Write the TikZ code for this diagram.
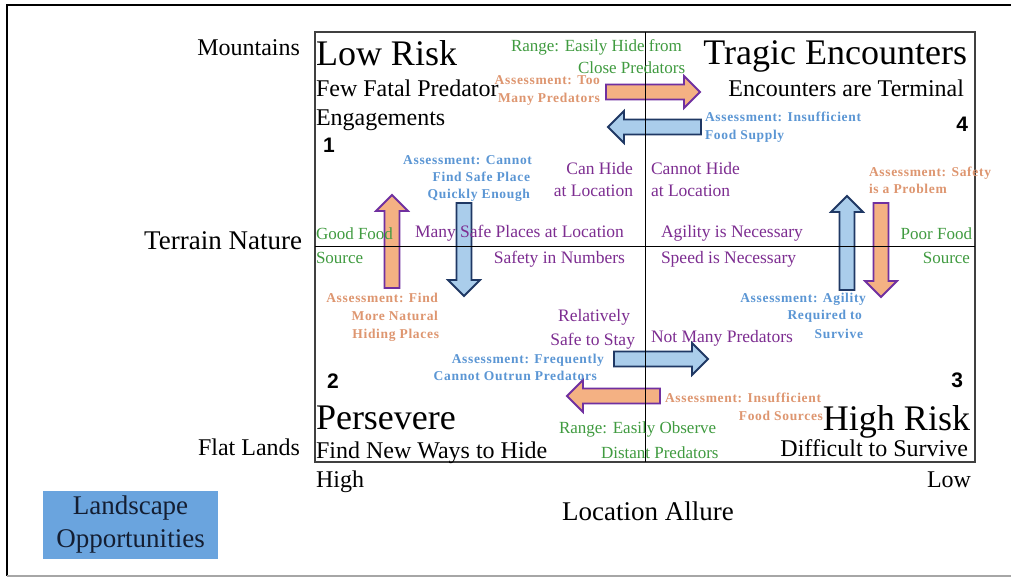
\documentclass[tikz,border=0pt]{standalone}
\usepackage{fontspec}
\setmainfont{Liberation Serif}
\newfontfamily\numfont{Liberation Sans}
\newfontfamily\assessfont{Liberation Serif}[LetterSpace=5]
\definecolor{ptext}{RGB}{125,45,145}
\definecolor{gtext}{RGB}{64,155,64}
\definecolor{btext}{RGB}{91,150,212}
\definecolor{otext}{RGB}{222,150,112}
\definecolor{ofill}{RGB}{244,177,131}
\definecolor{oline}{RGB}{112,48,160}
\definecolor{bfill}{RGB}{170,205,235}
\definecolor{bline}{RGB}{31,56,100}
\definecolor{boxfill}{RGB}{106,164,222}
\definecolor{boxtext}{RGB}{20,30,50}

% block arrows: style, tail, tip, centre line
\newcommand\harrow[4]{%
  \pgfmathsetmacro\hlen{ifthenelse(#3>#2,16,-16)}%
  \draw[#1] (#2,#4-7.5) -- ({#3-\hlen},#4-7.5) -- ({#3-\hlen},#4-16) -- (#3,#4)
     -- ({#3-\hlen},#4+16) -- ({#3-\hlen},#4+7.5) -- (#2,#4+7.5) -- cycle;}
\newcommand\varrow[4]{%
  \pgfmathsetmacro\hlen{ifthenelse(#3>#2,16,-16)}%
  \draw[#1] (#4-7.5,#2) -- (#4-7.5,{#3-\hlen}) -- (#4-16,{#3-\hlen}) -- (#4,#3)
     -- (#4+16,{#3-\hlen}) -- (#4+7.5,{#3-\hlen}) -- (#4+7.5,#2) -- cycle;}

\tikzset{
  every node/.style={inner sep=0pt, outer sep=0pt},
  big/.style={font=\fontsize{36}{38}\selectfont},
  med/.style={font=\fontsize{24}{26}\selectfont},
  axis/.style={font=\fontsize{27}{29}\selectfont},
  purp/.style={text=ptext, font=\fontsize{17.5}{20}\selectfont},
  grn/.style={text=gtext, font=\fontsize{17}{20}\selectfont},
  bass/.style={text=btext, font=\assessfont\bfseries\fontsize{13.5}{15}\selectfont},
  oass/.style={text=otext, font=\assessfont\bfseries\fontsize{13.5}{15}\selectfont},
  num/.style={font=\numfont\bfseries\fontsize{21}{22}\selectfont},
  oarrow/.style={fill=ofill, draw=oline, line width=1.8pt, line join=miter},
  barrow/.style={fill=bfill, draw=bline, line width=1.8pt, line join=miter},
}

\begin{document}
\begin{tikzpicture}[x=1pt,y=-1pt]
\useasboundingbox (0,0) rectangle (1011,577);
\fill[white] (0,0) rectangle (1011,577);

% outer frame
\draw[line width=2pt] (1011,5) -- (7,5) -- (7,576);
\draw[line width=1.5pt, gray!70] (7,576) -- (1011,576);

% quadrant chart frame
\draw[line width=1.3pt, black!75] (315,32) rectangle (975,462);

% assessment arrows
\harrow{oarrow}{606}{700}{92}
\harrow{barrow}{701}{608}{127}
\harrow{barrow}{614}{708}{359}
\harrow{oarrow}{660}{567}{396}
\varrow{oarrow}{288}{195}{392}
\varrow{barrow}{203}{296}{464}
\varrow{barrow}{290}{196}{847}
\varrow{oarrow}{203}{297}{881}

% axes of the chart
\draw[line width=1pt] (645,32) -- (645,462);
\draw[line width=1pt] (315,247) -- (975,247);

% axis titles
\node[med, anchor=base east] (mtn) at (300,56) {Mountains};
\node[axis, anchor=base east] (terr) at (302,250) {Terrain Nature};
\node[med, anchor=base east] (flat) at (300,455) {Flat Lands};
\node[med, anchor=base west] (high) at (316,487) {High};
\node[med, anchor=base east] (low) at (971,487) {Low};
\node[axis, anchor=base] (allure) at (648,520) {Location Allure};
\node[fill=boxfill, text=boxtext, minimum width=175pt, minimum height=68pt,
      align=center, font=\fontsize{27}{33}\selectfont] (land) at (130.5,525)
      {Landscape\\Opportunities};

% quadrant 1
\node[big, anchor=base west] (lowrisk) at (316,66) {Low Risk};
\node[med, anchor=base west] (few) at (316,97) {Few Fatal Predator};
\node[med, anchor=base west] (eng) at (316,126) {Engagements};
\node[num, anchor=base west] (n1) at (323,153) {1};
\node[grn, anchor=base west] (rng1) at (511,52) {Range: Easily Hide from};
\node[grn, anchor=base west] (rng2) at (578,74) {Close Predators};
\node[oass, anchor=base east] (too1) at (600,85) {Assessment: Too};
\node[oass, anchor=base east] (too2) at (600,103) {Many Predators};
\node[bass, anchor=base east] (cnf1) at (532,165) {Assessment: Cannot};
\node[bass, anchor=base east] (cnf2) at (530,182) {Find Safe Place};
\node[bass, anchor=base east] (cnf3) at (530,199) {Quickly Enough};
\node[purp, anchor=base east] (can1) at (633,175) {Can Hide};
\node[purp, anchor=base east] (can2) at (633,197) {at Location};
\node[grn, anchor=base west] (good1) at (316,240) {Good Food};
\node[grn, anchor=base west] (good2) at (316,263) {Source};
\node[purp, anchor=base west] (many) at (415,238) {Many Safe Places at Location};

% quadrant 4
\node[big, anchor=base east] (tragic) at (967,65) {Tragic Encounters};
\node[med, anchor=base east] (term) at (964,97) {Encounters are Terminal};
\node[bass, anchor=base west] (ins1) at (705,122) {Assessment: Insufficient};
\node[bass, anchor=base west] (ins2) at (705,140) {Food Supply};
\node[num, anchor=base east] (n4) at (968,132) {4};
\node[purp, anchor=base west] (cnh1) at (651,175) {Cannot Hide};
\node[purp, anchor=base west] (cnh2) at (651,197) {at Location};
\node[oass, anchor=base west] (saf1) at (869,177) {Assessment: Safety};
\node[oass, anchor=base west] (saf2) at (869,194) {is a Problem};
\node[purp, anchor=base west] (agil) at (661,238) {Agility is Necessary};
\node[grn, anchor=base east] (poor1) at (972,240) {Poor Food};
\node[grn, anchor=base east] (poor2) at (970,263) {Source};

% quadrant 2
\node[purp, anchor=base east] (safn) at (625,263) {Safety in Numbers};
\node[oass, anchor=base east] (fnd1) at (438,302) {Assessment: Find};
\node[oass, anchor=base east] (fnd2) at (438,320) {More Natural};
\node[oass, anchor=base east] (fnd3) at (439,338) {Hiding Places};
\node[purp, anchor=base east] (rel1) at (630,321) {Relatively};
\node[purp, anchor=base east] (rel2) at (635,345) {Safe to Stay};
\node[bass, anchor=base east] (frq1) at (604,363) {Assessment: Frequently};
\node[bass, anchor=base east] (frq2) at (597,380) {Cannot Outrun Predators};
\node[num, anchor=base west] (n2) at (327,388) {2};
\node[big, anchor=base west] (persevere) at (316,429) {Persevere};
\node[med, anchor=base west] (findnew) at (316,458) {Find New Ways to Hide};
\node[grn, anchor=base west] (obs1) at (559,433) {Range: Easily Observe};
\node[grn, anchor=base west] (obs2) at (601,458) {Distant Predators};

% quadrant 3
\node[purp, anchor=base west] (speed) at (661,263) {Speed is Necessary};
\node[purp, anchor=base west] (notmany) at (651,342) {Not Many Predators};
\node[bass, anchor=base east] (agl1) at (866,302) {Assessment: Agility};
\node[bass, anchor=base east] (agl2) at (862,319) {Required to};
\node[bass, anchor=base east] (agl3) at (863,338) {Survive};
\node[num, anchor=base east] (n3) at (963,387) {3};
\node[oass, anchor=base west] (src1) at (665,402) {Assessment: Insufficient};
\node[oass, anchor=base east] (src2) at (823,420) {Food Sources};
\node[big, anchor=base east] (highrisk) at (970,430) {High Risk};
\node[med, anchor=base east] (diff) at (968,456) {Difficult to Survive};
\end{tikzpicture}
\end{document}
